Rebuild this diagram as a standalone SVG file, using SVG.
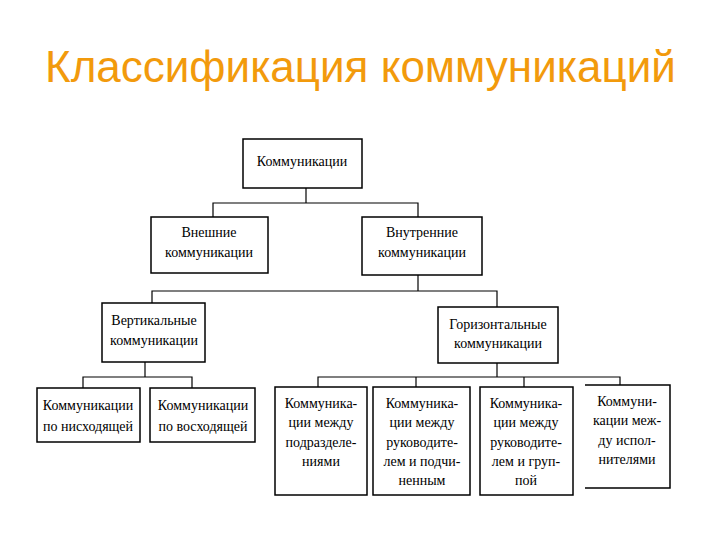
<svg xmlns="http://www.w3.org/2000/svg" width="720" height="540" viewBox="0 0 720 540">
<style>
.box{fill:#fff;stroke:#000;stroke-width:1.5}
.ln{fill:none;stroke:#000;stroke-width:1.2}
.t{font-family:"Liberation Serif","DejaVu Serif","Times New Roman",serif;font-size:14px;fill:#000;text-anchor:middle}
.title{font-family:"Liberation Sans",Arial,sans-serif;font-size:44px;fill:#F29A0C}
</style>
<rect width="720" height="540" fill="#fff"/>
<text class="title" x="45" y="82">Классификация коммуникаций</text>
<g id="connectors" class="ln">
<polyline points="306,188 306,203"/>
<polyline points="213,217 213,203 418,203 418,217"/>
<polyline points="418,275 418,291"/>
<polyline points="152,303 152,291 497,291 497,307"/>
<polyline points="145,362 145,377"/>
<polyline points="83,388 83,377 192,377 192,388"/>
<polyline points="497,363 497,377"/>
<polyline points="318,387 318,377 620,377 620,385"/>
<polyline points="416,377 416,387"/>
<polyline points="524,377 524,387"/>
</g>
<g id="root"><rect class="box" x="243" y="139" width="119" height="49"/><text class="t" x="302" y="166">Коммуникации</text></g>
<g id="external"><rect class="box" x="151" y="217" width="117" height="56"/><text class="t" x="209" y="237">Внешние</text><text class="t" x="209" y="257">коммуникации</text></g>
<g id="internal"><rect class="box" x="362" y="217" width="120" height="58"/><text class="t" x="422" y="237">Внутренние</text><text class="t" x="422" y="257">коммуникации</text></g>
<g id="vertical"><rect class="box" x="102" y="303" width="103" height="59"/><text class="t" x="154" y="325">Вертикальные</text><text class="t" x="154" y="345">коммуникации</text></g>
<g id="horizontal"><rect class="box" x="438" y="307" width="120" height="56"/><text class="t" x="498" y="329">Горизонтальные</text><text class="t" x="498" y="348">коммуникации</text></g>
<g id="down"><rect class="box" x="37" y="388" width="103" height="54"/><text class="t" x="88" y="410">Коммуникации</text><text class="t" x="88" y="431">по нисходящей</text></g>
<g id="up"><rect class="box" x="150" y="388" width="105" height="54"/><text class="t" x="203" y="410">Коммуникации</text><text class="t" x="203" y="431">по восходящей</text></g>
<g id="h1"><rect class="box" x="275" y="387" width="92" height="108"/><text class="t" x="321" y="408">Коммуника-</text><text class="t" x="321" y="427">ции между</text><text class="t" x="321" y="447">подразделе-</text><text class="t" x="321" y="466">ниями</text></g>
<g id="h2"><rect class="box" x="373" y="387" width="97" height="108"/><text class="t" x="422" y="408">Коммуника-</text><text class="t" x="422" y="427">ции между</text><text class="t" x="422" y="447">руководите-</text><text class="t" x="422" y="466">лем и подчи-</text><text class="t" x="422" y="485">ненным</text></g>
<g id="h3"><rect class="box" x="480" y="387" width="93" height="108"/><text class="t" x="526" y="408">Коммуника-</text><text class="t" x="526" y="427">ции между</text><text class="t" x="526" y="447">руководите-</text><text class="t" x="526" y="466">лем и груп-</text><text class="t" x="526" y="485">пой</text></g>
<g id="h4"><polyline class="box" style="fill:none" points="585,385 670,385 670,488 585,488"/><text class="t" x="627" y="406">Коммуни-</text><text class="t" x="627" y="425">кации меж-</text><text class="t" x="627" y="445">ду испол-</text><text class="t" x="627" y="464">нителями</text></g>
</svg>
